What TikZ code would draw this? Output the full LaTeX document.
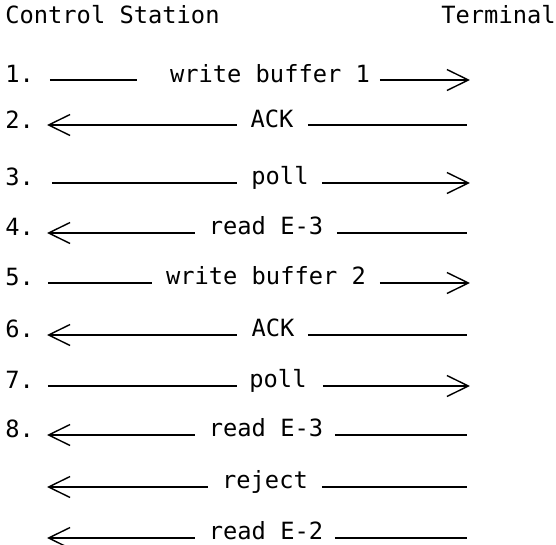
\documentclass[tikz,border=0pt]{standalone}
\usepackage{fontspec}
\setmonofont{DejaVu Sans Mono}
\usetikzlibrary{arrows.meta}

\begin{document}
\begin{tikzpicture}[x=0.02cm, y=-0.02cm,
  lbl/.style={font=\ttfamily\fontsize{13.5}{16}\selectfont, inner sep=0pt, anchor=base},
  num/.style={lbl, anchor=base west},
  msgline/.style={line width=0.8pt},
  arr/.style={msgline, -{Straight Barb[length=4.3mm, width=4.2mm, line width=0.8pt]}}
]
\useasboundingbox (0,0) rectangle (556,545);

% headings
\node[lbl, anchor=base west] (cs) at (5,23) {Control Station};
\node[lbl, anchor=base east] (term) at (556,23) {Terminal};

% row 1
\node[num] (n1) at (5,82) {1.};
\node[lbl] (msg1) at (270,82) {write buffer 1};
\coordinate (a1) at (50,80); \coordinate (b1) at (137,80);
\coordinate (c1) at (380,80); \coordinate (d1) at (470,80);
\draw[msgline] (a1) -- (b1);
\draw[arr] (c1) -- (d1);

% row 2
\node[num] (n2) at (5,128) {2.};
\node[lbl] (msg2) at (272,127) {ACK};
\coordinate (a2) at (47,125); \coordinate (b2) at (237,125);
\coordinate (c2) at (308,125); \coordinate (d2) at (467,125);
\draw[arr] (b2) -- (a2);
\draw[msgline] (c2) -- (d2);

% row 3
\node[num] (n3) at (5,185) {3.};
\node[lbl] (msg3) at (280,184) {poll};
\coordinate (a3) at (52,183); \coordinate (b3) at (237,183);
\coordinate (c3) at (322,183); \coordinate (d3) at (470,183);
\draw[msgline] (a3) -- (b3);
\draw[arr] (c3) -- (d3);

% row 4
\node[num] (n4) at (5,235) {4.};
\node[lbl] (msg4) at (266,234) {read E-3};
\coordinate (a4) at (47,233); \coordinate (b4) at (195,233);
\coordinate (c4) at (337,233); \coordinate (d4) at (467,233);
\draw[arr] (b4) -- (a4);
\draw[msgline] (c4) -- (d4);

% row 5
\node[num] (n5) at (5,285) {5.};
\node[lbl] (msg5) at (266,284) {write buffer 2};
\coordinate (a5) at (48,283); \coordinate (b5) at (152,283);
\coordinate (c5) at (380,283); \coordinate (d5) at (470,283);
\draw[msgline] (a5) -- (b5);
\draw[arr] (c5) -- (d5);

% row 6
\node[num] (n6) at (5,337) {6.};
\node[lbl] (msg6) at (273,336) {ACK};
\coordinate (a6) at (47,335); \coordinate (b6) at (237,335);
\coordinate (c6) at (308,335); \coordinate (d6) at (467,335);
\draw[arr] (b6) -- (a6);
\draw[msgline] (c6) -- (d6);

% row 7
\node[num] (n7) at (5,388) {7.};
\node[lbl] (msg7) at (278,387) {poll};
\coordinate (a7) at (48,386); \coordinate (b7) at (237,386);
\coordinate (c7) at (323,386); \coordinate (d7) at (470,386);
\draw[msgline] (a7) -- (b7);
\draw[arr] (c7) -- (d7);

% row 8
\node[num] (n8) at (5,437) {8.};
\node[lbl] (msg8) at (266,436) {read E-3};
\coordinate (a8) at (47,435); \coordinate (b8) at (195,435);
\coordinate (c8) at (335,435); \coordinate (d8) at (467,435);
\draw[arr] (b8) -- (a8);
\draw[msgline] (c8) -- (d8);

% follow-up replies
\node[lbl] (msg9) at (265,488) {reject};
\coordinate (a9) at (47,487); \coordinate (b9) at (208,487);
\coordinate (c9) at (322,487); \coordinate (d9) at (467,487);
\draw[arr] (b9) -- (a9);
\draw[msgline] (c9) -- (d9);

\node[lbl] (msg10) at (266,539) {read E-2};
\coordinate (a10) at (47,538); \coordinate (b10) at (195,538);
\coordinate (c10) at (335,538); \coordinate (d10) at (467,538);
\draw[arr] (b10) -- (a10);
\draw[msgline] (c10) -- (d10);
\end{tikzpicture}
\end{document}
